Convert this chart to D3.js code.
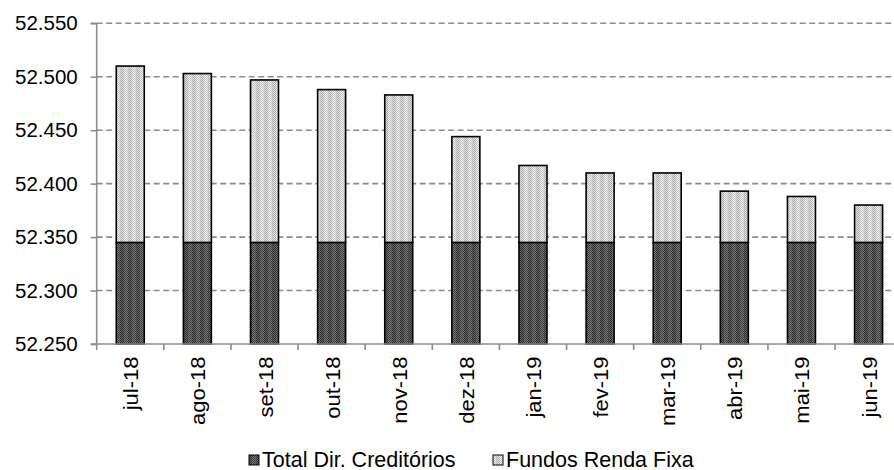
<!DOCTYPE html>
<html>
<head>
<meta charset="utf-8">
<script src="https://cdn.jsdelivr.net/npm/d3@7/dist/d3.min.js"></script>
<style>
  html, body { margin: 0; padding: 0; background: #fff; overflow: hidden; }
  svg { display: block; font-family: "Liberation Sans", Arial, sans-serif; }
</style>
</head>
<body>
<svg id="chart" width="894" height="470"></svg>
<script>
// Monthly stock, stacked: direct credits (base) + fixed-income funds
const months = ["jul-18","ago-18","set-18","out-18","nov-18","dez-18",
                "jan-19","fev-19","mar-19","abr-19","mai-19","jun-19"];
const creditos = [52.345,52.345,52.345,52.345,52.345,52.345,
                  52.345,52.345,52.345,52.345,52.345,52.345];
const fundos = [0.165,0.158,0.152,0.143,0.138,0.099,
                0.072,0.065,0.065,0.048,0.043,0.035];
const yTicks = [52.250,52.300,52.350,52.400,52.450,52.500,52.550];
const seriesNames = ["Total Dir. Creditórios","Fundos Renda Fixa"];

const svg = d3.select("#chart");
// plot area runs slightly past the right edge of the canvas
const m = {left: 96.7, right: 96.7 + 12 * 67.12, top: 23.3, bottom: 344};

const x = d3.scaleBand().domain(months).range([m.left, m.right]).paddingInner(0.583).paddingOuter(0.2915);
const y = d3.scaleLinear().domain([52.25, 52.55]).range([m.bottom, m.top]);

// hatch-like fills
const defs = svg.append("defs");
function makePattern(id, a, b, c, d) {
  const p = defs.append("pattern").attr("id", id).attr("patternUnits", "userSpaceOnUse")
    .attr("width", 8).attr("height", 2);
  for (let i = 0; i < 8; i++) {
    for (let j = 0; j < 2; j++) {
      const stripe = i >= 4;
      const even = (i + j) % 2 === 0;
      p.append("rect").attr("x", i).attr("y", j).attr("width", 1).attr("height", 1)
        .attr("fill", stripe ? (even ? c : d) : (even ? a : b));
    }
  }
}
makePattern("pDark", "#2e2e2e", "#646464", "#3a3a3a", "#7a7a7a");
makePattern("pLight", "#acacac", "#e2e2e2", "#c2c2c2", "#eeeeee");

// gridlines
svg.append("g").selectAll("line").data(yTicks.slice(1)).join("line")
  .attr("x1", m.left).attr("x2", m.right)
  .attr("y1", d => y(d)).attr("y2", d => y(d))
  .attr("stroke", "#8c8c8c").attr("stroke-width", 1.6).attr("stroke-dasharray", "6,3.5");

// y axis
const yAxis = d3.axisLeft(y).tickValues(yTicks).tickFormat(d3.format(".3f")).tickSize(6).tickPadding(13);
const gy = svg.append("g").attr("transform", `translate(${m.left},0)`).call(yAxis);
gy.select(".domain").attr("stroke", "#8c8c8c").attr("stroke-width", 1.6).attr("d", `M-6,${m.bottom}H0V${m.top}H-6`);
gy.selectAll(".tick line").attr("stroke", "#8c8c8c").attr("stroke-width", 1.6);
gy.selectAll(".tick text").attr("font-size", 20.5).attr("fill", "#000").attr("font-family", "Liberation Sans, Arial, sans-serif");

// stacked bars
const bars = svg.append("g");
months.forEach((mo, i) => {
  const x0 = x(mo), w = x.bandwidth();
  const base = creditos[i];
  const top = creditos[i] + fundos[i];
  bars.append("rect").attr("x", x0).attr("width", w)
    .attr("y", y(base)).attr("height", y(52.25) - y(base))
    .attr("fill", "url(#pDark)").attr("stroke", "#000").attr("stroke-width", 1.6);
  bars.append("rect").attr("x", x0).attr("width", w)
    .attr("y", y(top)).attr("height", y(base) - y(top))
    .attr("fill", "url(#pLight)").attr("stroke", "#000").attr("stroke-width", 1.6);
});

// category axis
const step = x.step();
const gx = svg.append("g");
gx.append("line").attr("x1", m.left).attr("x2", m.right).attr("y1", m.bottom).attr("y2", m.bottom)
  .attr("stroke", "#8c8c8c").attr("stroke-width", 1.6);
gx.selectAll(".tk").data(d3.range(months.length + 1)).join("line").attr("class", "tk")
  .attr("x1", i => m.left + i * step).attr("x2", i => m.left + i * step)
  .attr("y1", m.bottom).attr("y2", m.bottom + 6)
  .attr("stroke", "#8c8c8c").attr("stroke-width", 1.6);
gx.selectAll("text").data(months).join("text")
  .attr("transform", d => `translate(${x(d) + x.bandwidth() / 2 + 8},${m.bottom + 12.5}) rotate(-90) scale(1,0.9)`)
  .attr("text-anchor", "end").attr("font-size", 22).attr("fill", "#000")
  .text(d => d);

// legend
const legend = svg.append("g");
const legItems = [
  {name: seriesNames[0], fill: "url(#pDark)", x: 249},
  {name: seriesNames[1], fill: "url(#pLight)", x: 493}
];
legItems.forEach(it => {
  legend.append("rect").attr("x", it.x).attr("y", 455).attr("width", 10).attr("height", 10)
    .attr("fill", it.fill).attr("stroke", "#000").attr("stroke-width", 1);
  legend.append("text").attr("x", it.x + 13).attr("y", 466.5).attr("font-size", 21.5)
    .attr("fill", "#000").text(it.name);
});
</script>
</body>
</html>
